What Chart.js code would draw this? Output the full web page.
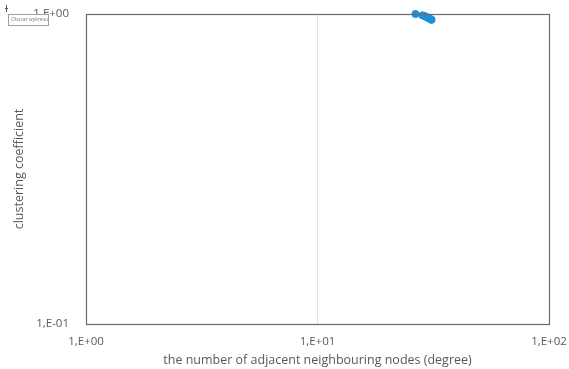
<!DOCTYPE html>
<html>
<head>
<meta charset="utf-8">
<script src="https://cdn.jsdelivr.net/npm/chart.js@4.4.1/dist/chart.umd.min.js"></script>
<style>
    html, body { margin: 0; padding: 0; background: #ffffff; }
    #wrap { width: 569px; height: 369px; }
</style>
</head>
<body>
<div id="wrap"><canvas id="degreeChart" width="569" height="369"></canvas></div>
<script>
// Node degree vs clustering coefficient
const degree = [26.5, 28.4, 29.0, 29.6, 30.0, 30.4, 30.8, 31.1];
const clustering = [1.0, 0.99, 0.985, 0.978, 0.972, 0.968, 0.962, 0.958];

const xTicks = [1, 10, 100];
const xTickLabels = ['1,E+00', '1,E+01', '1,E+02'];
const yTicks = [0.1, 1];
const yTickLabels = ['1,E-01', '1.E+00'];

const textColor = '#595959';
const fontFamily = '"Open Sans", "Liberation Sans", sans-serif';

// Plot area frame drawn on top of the grid
const framePlugin = {
    id: 'frame',
    afterDraw(chart) {
        const { ctx, chartArea: a } = chart;
        ctx.save();
        ctx.strokeStyle = '#6b6b6b';
        ctx.lineWidth = 1.2;
        ctx.strokeRect(a.left + 0.5, a.top + 0.5, a.right - a.left, a.bottom - a.top);
        ctx.restore();
    }
};

// Small hover label in the corner
const hintPlugin = {
    id: 'hint',
    afterDraw(chart) {
        const ctx = chart.ctx;
        ctx.save();
        ctx.fillStyle = '#ffffff';
        ctx.strokeStyle = '#a0a0a0';
        ctx.lineWidth = 1;
        ctx.fillRect(8.5, 14.5, 40, 11);
        ctx.strokeRect(8.5, 14.5, 40, 11);
        ctx.fillStyle = '#7a7a7a';
        ctx.font = '5px ' + fontFamily;
        ctx.textBaseline = 'middle';
        ctx.fillText('Obszar wykresu', 11, 20);
        ctx.strokeStyle = '#555555';
        ctx.beginPath();
        ctx.moveTo(6.5, 5); ctx.lineTo(6.5, 12);
        ctx.moveTo(5, 8.5); ctx.lineTo(8, 8.5);
        ctx.stroke();
        ctx.restore();
    }
};

const ctx = document.getElementById('degreeChart').getContext('2d');
new Chart(ctx, {
    type: 'scatter',
    data: {
        datasets: [{
            data: degree.map((d, i) => ({ x: d, y: clustering[i] })),
            backgroundColor: '#1f8fdb',
            borderColor: '#1f8fdb',
            pointRadius: 3.6,
            pointHoverRadius: 3.6,
            clip: false
        }]
    },
    options: {
        responsive: false,
        animation: false,
        layout: { padding: { top: 14, right: 20, left: 0, bottom: 0 } },
        plugins: {
            legend: { display: false },
            tooltip: { enabled: false }
        },
        scales: {
            x: {
                type: 'logarithmic',
                min: 1,
                max: 100,
                afterBuildTicks: (scale) => { scale.ticks = xTicks.map(v => ({ value: v })); },
                afterFit: (scale) => {
                    scale.height = 45;
                    scale.paddingLeft = 0;
                    scale.paddingRight = 0;
                },
                border: { display: false },
                grid: {
                    drawTicks: false,
                    color: (c) => (c.tick && c.tick.value === 10) ? '#e3e3e3' : 'rgba(0,0,0,0)'
                },
                ticks: {
                    color: textColor,
                    padding: 11,
                    maxRotation: 0,
                    autoSkip: false,
                    font: { family: fontFamily, size: 11.5 },
                    callback: (v) => xTickLabels[xTicks.indexOf(v)] ?? ''
                },
                title: {
                    display: true,
                    text: 'the number of adjacent neighbouring nodes (degree)',
                    color: textColor,
                    font: { family: fontFamily, size: 12.5 },
                    padding: { top: 0, bottom: 1 }
                }
            },
            y: {
                type: 'logarithmic',
                min: 0.1,
                max: 1,
                afterBuildTicks: (scale) => { scale.ticks = yTicks.map(v => ({ value: v })); },
                afterFit: (scale) => {
                    scale.width = 86;
                    scale.paddingTop = 0;
                    scale.paddingBottom = 0;
                },
                border: { display: false },
                grid: { drawTicks: false, color: 'rgba(0,0,0,0)' },
                ticks: {
                    color: textColor,
                    padding: 17,
                    autoSkip: false,
                    font: { family: fontFamily, size: 11.5 },
                    callback: (v) => yTickLabels[yTicks.indexOf(v)] ?? ''
                },
                title: {
                    display: true,
                    text: 'clustering coefficient',
                    color: textColor,
                    font: { family: fontFamily, size: 12.5 },
                    padding: { top: 12, bottom: 0 }
                }
            }
        }
    },
    plugins: [framePlugin, hintPlugin]
});
</script>
</body>
</html>
